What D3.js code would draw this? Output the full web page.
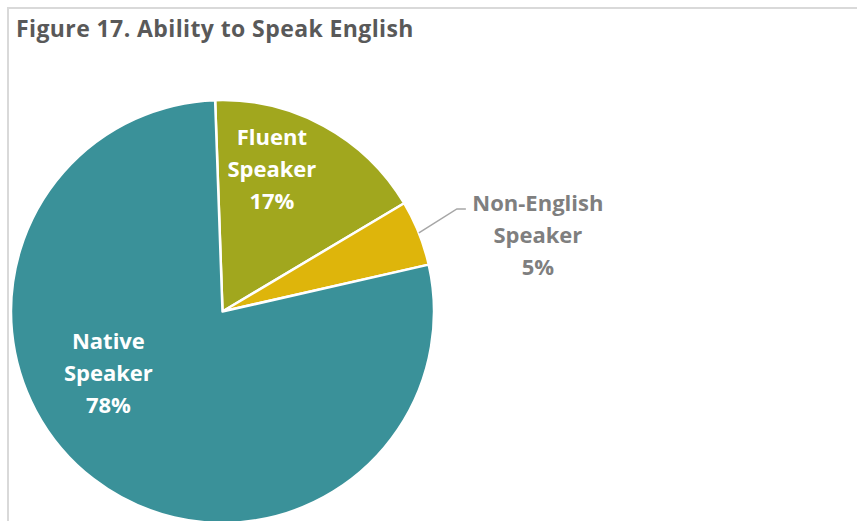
<!DOCTYPE html>
<html>
<head>
<meta charset="utf-8">
<script src="https://cdn.jsdelivr.net/npm/d3@7"></script>
<style>
  html, body { margin: 0; padding: 0; background: #ffffff; }
  svg { display: block; }
</style>
</head>
<body>
<svg id="chart" width="857" height="521"></svg>
<script>
// Ability to speak English, share of respondents
const categories = ["Fluent Speaker", "Non-English Speaker", "Native Speaker"];
const labelLines = [["Fluent", "Speaker"], ["Non-English", "Speaker"], ["Native", "Speaker"]];
const shares = [17, 5, 78];
const colors = ["#a1a71e", "#deb50b", "#3a9199"];
const titleText = "Figure 17. Ability to Speak English";

const W = 857, H = 521;
const svg = d3.select("#chart");
const font = "'Open Sans', sans-serif";

// chart frame
svg.append("path")
  .attr("d", `M8,${H} L8,8 L${W},8`)
  .attr("fill", "none")
  .attr("stroke", "#d9d9d9")
  .attr("stroke-width", 2);

svg.append("text")
  .attr("x", 16)
  .attr("y", 37)
  .attr("font-family", font)
  .attr("font-weight", 700)
  .attr("font-size", 23)
  .attr("letter-spacing", 0.4)
  .attr("fill", "#595959")
  .text(titleText);

const cx = 222.5, cy = 311.5, R = 211.5;
const startAngle = -2 * Math.PI / 180;

const pie = d3.pie()
  .sort(null)
  .value(d => d)
  .startAngle(startAngle)
  .endAngle(startAngle + 2 * Math.PI);

const arcs = pie(shares);
const arc = d3.arc().innerRadius(0).outerRadius(R);

const g = svg.append("g").attr("transform", `translate(${cx},${cy})`);

g.selectAll("path.slice")
  .data(arcs)
  .join("path")
  .attr("class", "slice")
  .attr("d", arc)
  .attr("fill", (d, i) => colors[i])
  .attr("stroke", "#ffffff")
  .attr("stroke-width", 2.5)
  .attr("stroke-linejoin", "round");

// label anchors: polar offsets from the pie centre
const lineH = 32;
const fs = 22;
function polar(angle, r) {
  return [r * Math.sin(angle), -r * Math.cos(angle)];
}

function drawLabel(lines, x, y, fill) {
  const t = g.append("text")
    .attr("font-family", font)
    .attr("font-weight", 700)
    .attr("font-size", fs)
    .attr("fill", fill)
    .attr("text-anchor", "middle");
  lines.forEach((ln, k) => {
    t.append("tspan")
      .attr("x", x)
      .attr("y", y + (k - 1) * lineH)
      .attr("dy", "0.35em")
      .text(ln);
  });
}

const pct = d => `${d}%`;

// Fluent Speaker (inside)
{
  const a = arcs[0];
  const mid = (a.startAngle + a.endAngle) / 2;
  const [x, y] = polar(mid - 0.166, 151);
  drawLabel([...labelLines[0], pct(shares[0])], x, y, "#ffffff");
}

// Native Speaker (inside)
{
  const a = arcs[2];
  const mid = (a.startAngle + a.endAngle) / 2;
  const [x, y] = polar(mid + 0.415, 130);
  drawLabel([...labelLines[2], pct(shares[2])], x, y, "#ffffff");
}

// Non-English Speaker (outside with leader line)
{
  const a = arcs[1];
  const mid = (a.startAngle + a.endAngle) / 2;
  const p0 = polar(mid, R);
  const p1 = [p0[0] + 38, p0[1] - 24];
  const p2 = [p1[0] + 9, p1[1]];
  g.append("polyline")
    .attr("points", [p0, p1, p2].map(p => p.join(",")).join(" "))
    .attr("fill", "none")
    .attr("stroke", "#a6a6a6")
    .attr("stroke-width", 1.5);
  drawLabel([...labelLines[1], pct(shares[1])], p2[0] + 72, p2[1] + 26, "#7f7f7f");
}
</script>
</body>
</html>
